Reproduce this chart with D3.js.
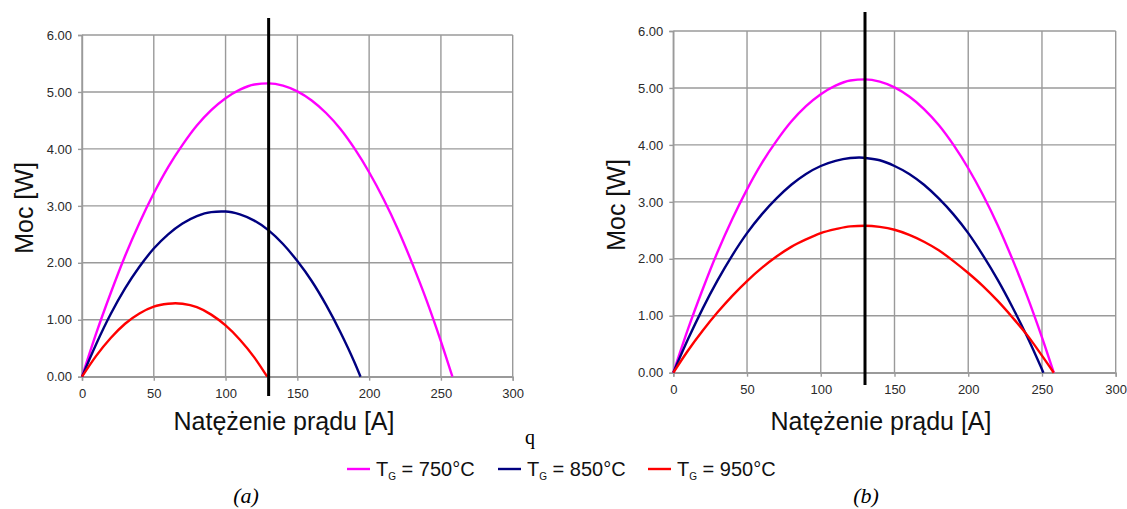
<!DOCTYPE html>
<html>
<head>
<meta charset="utf-8">
<script src="https://cdn.jsdelivr.net/npm/d3@7"></script>
<style>
  html, body { margin: 0; padding: 0; background: #fff; }
  svg { display: block; }
</style>
</head>
<body>
<svg id="fig" width="1127" height="509"></svg>
<script>
// Power vs. current for three gas temperatures, two configurations (a) and (b)
const currentTicks = [0, 50, 100, 150, 200, 250, 300];
const powerTicks = [0, 1, 2, 3, 4, 5, 6];
const markerCurrent = 130;

// (a) 750 °C
const aI750 = [0,10,20,30,40,50,60,70,80,90,100,110,120,130,140,150,160,170,180,190,200,210,220,230,240,250,258];
const aP750 = [0,0.77,1.47,2.12,2.70,3.22,3.68,4.07,4.41,4.68,4.89,5.04,5.13,5.15,5.11,5.01,4.85,4.63,4.35,4.00,3.59,3.12,2.59,1.99,1.34,0.62,0];
// (a) 850 °C
const aI850 = [0,10,20,30,40,50,60,70,80,90,97,100,110,120,130,140,150,160,170,180,190,194];
const aP850 = [0,0.58,1.10,1.55,1.93,2.25,2.50,2.69,2.82,2.89,2.90,2.90,2.85,2.74,2.57,2.33,2.03,1.68,1.26,0.78,0.24,0];
// (a) 950 °C
const aI950 = [0,10,20,30,40,50,60,65,70,80,90,100,110,120,129];
const aP950 = [0,0.37,0.68,0.93,1.11,1.23,1.28,1.29,1.28,1.22,1.09,0.90,0.65,0.34,0];

// (b) 750 °C
const bI750 = [0,10,20,30,40,50,60,70,80,90,100,110,120,130,140,150,160,170,180,190,200,210,220,230,240,250,258];
const bP750 = [0,0.77,1.47,2.12,2.70,3.22,3.68,4.07,4.41,4.68,4.89,5.04,5.13,5.15,5.11,5.01,4.85,4.63,4.35,4.00,3.59,3.12,2.59,1.99,1.34,0.62,0];
// (b) 850 °C
const bI850 = [0,10,20,30,40,50,60,70,80,90,100,110,120,126,130,140,150,160,170,180,190,200,210,220,230,240,251];
const bP850 = [0,0.59,1.13,1.62,2.06,2.45,2.78,3.06,3.30,3.49,3.63,3.72,3.77,3.78,3.77,3.73,3.63,3.49,3.30,3.06,2.78,2.45,2.06,1.63,1.15,0.63,0];
// (b) 950 °C
const bI950 = [0,10,20,30,40,50,60,70,80,90,100,110,120,130,140,150,160,170,180,190,200,210,220,230,240,250,258];
const bP950 = [0,0.39,0.74,1.06,1.35,1.61,1.84,2.04,2.21,2.34,2.45,2.52,2.57,2.58,2.56,2.51,2.42,2.30,2.15,1.96,1.75,1.52,1.26,0.97,0.66,0.30,0];

const seriesNames = ["750", "850", "950"];
const seriesColors = ["#ff00ff", "#000080", "#ff0000"];

const panels = [
  { left: 82, right: 512.7, top: 35, bottom: 376.7, lineTop: 18, lineBottom: 396,
    yTitleX: 24, yTitleY: 208, xTitleX: 284, caption: "(a)", captionX: 246,
    series: [[aI750, aP750], [aI850, aP850], [aI950, aP950]] },
  { left: 673.3, right: 1115.7, top: 31, bottom: 372.7, lineTop: 12, lineBottom: 385,
    yTitleX: 616, yTitleY: 205, xTitleX: 881, caption: "(b)", captionX: 866,
    series: [[bI750, bP750], [bI850, bP850], [bI950, bP950]] }
];

const svg = d3.select("#fig");
const gridColor = "#9a9a9a";
const font = "Arial, 'Liberation Sans', sans-serif";

panels.forEach(p => {
  const x = d3.scaleLinear().domain([0, 300]).range([p.left, p.right]);
  const y = d3.scaleLinear().domain([0, 6]).range([p.bottom, p.top]);
  const g = svg.append("g");

  // grid
  g.selectAll("line.vg").data(currentTicks).join("line")
    .attr("x1", d => x(d)).attr("x2", d => x(d))
    .attr("y1", p.top).attr("y2", p.bottom)
    .attr("stroke", gridColor).attr("stroke-width", 1.4);
  g.selectAll("line.hg").data(powerTicks).join("line")
    .attr("x1", p.left).attr("x2", p.right)
    .attr("y1", d => y(d)).attr("y2", d => y(d))
    .attr("stroke", gridColor).attr("stroke-width", 1.4);

  // axes
  const xAxis = d3.axisBottom(x).tickValues(currentTicks).tickSize(4).tickPadding(8);
  const yAxis = d3.axisLeft(y).tickValues(powerTicks).tickSize(4).tickPadding(6)
    .tickFormat(d3.format(".2f"));
  const gx = g.append("g").attr("transform", `translate(0,${p.bottom})`).call(xAxis);
  const gy = g.append("g").attr("transform", `translate(${p.left},0)`).call(yAxis);
  [gx, gy].forEach(a => {
    a.select(".domain").attr("stroke", gridColor).attr("stroke-width", 1.4);
    a.selectAll(".tick line").attr("stroke", gridColor).attr("stroke-width", 1.4);
    a.selectAll(".tick text").attr("fill", "#2a2a2a").attr("font-family", font).attr("font-size", 13);
  });

  // curves
  const line = d3.line().x(d => x(d[0])).y(d => y(d[1])).curve(d3.curveMonotoneX);
  p.series.forEach((s, i) => {
    const pts = s[0].map((c, k) => [c, s[1][k]]);
    g.append("path").datum(pts).attr("d", line)
      .attr("fill", "none").attr("stroke", seriesColors[i]).attr("stroke-width", 2.4);
  });

  // marker line at the operating current
  g.append("line")
    .attr("x1", x(markerCurrent)).attr("x2", x(markerCurrent))
    .attr("y1", p.lineTop).attr("y2", p.lineBottom)
    .attr("stroke", "#000").attr("stroke-width", 3);

  // titles
  g.append("text")
    .attr("transform", `translate(${p.yTitleX + 9},${p.yTitleY})rotate(-90)`)
    .attr("text-anchor", "middle").attr("font-family", font).attr("font-size", 25)
    .attr("fill", "#111").text("Moc [W]");
  g.append("text")
    .attr("x", p.xTitleX).attr("y", 430)
    .attr("text-anchor", "middle").attr("font-family", font).attr("font-size", 25)
    .attr("fill", "#111").text("Natężenie prądu [A]");

  g.append("text")
    .attr("x", p.captionX).attr("y", 503)
    .attr("text-anchor", "middle").attr("font-family", "'Liberation Serif', 'DejaVu Serif', serif")
    .attr("font-style", "italic").attr("font-size", 22).attr("fill", "#000").text(p.caption);
});

// stray glyph between the panels
svg.append("text").attr("x", 530).attr("y", 444).attr("text-anchor", "middle")
  .attr("font-family", "'Liberation Serif', serif").attr("font-size", 20).attr("fill", "#000").text("q");

// legend
const legendX = [347, 498, 648];
const leg = svg.append("g");
seriesNames.forEach((n, i) => {
  const lx = legendX[i];
  leg.append("line").attr("x1", lx).attr("x2", lx + 23).attr("y1", 469).attr("y2", 469)
    .attr("stroke", seriesColors[i]).attr("stroke-width", 2.4);
  const t = leg.append("text").attr("x", lx + 29).attr("y", 476)
    .attr("font-family", font).attr("font-size", 20).attr("fill", "#111");
  t.append("tspan").text("T");
  t.append("tspan").attr("font-size", 10).attr("dy", 4).text("G");
  t.append("tspan").attr("dy", -4).text(` = ${n}°C`);
});
</script>
</body>
</html>
